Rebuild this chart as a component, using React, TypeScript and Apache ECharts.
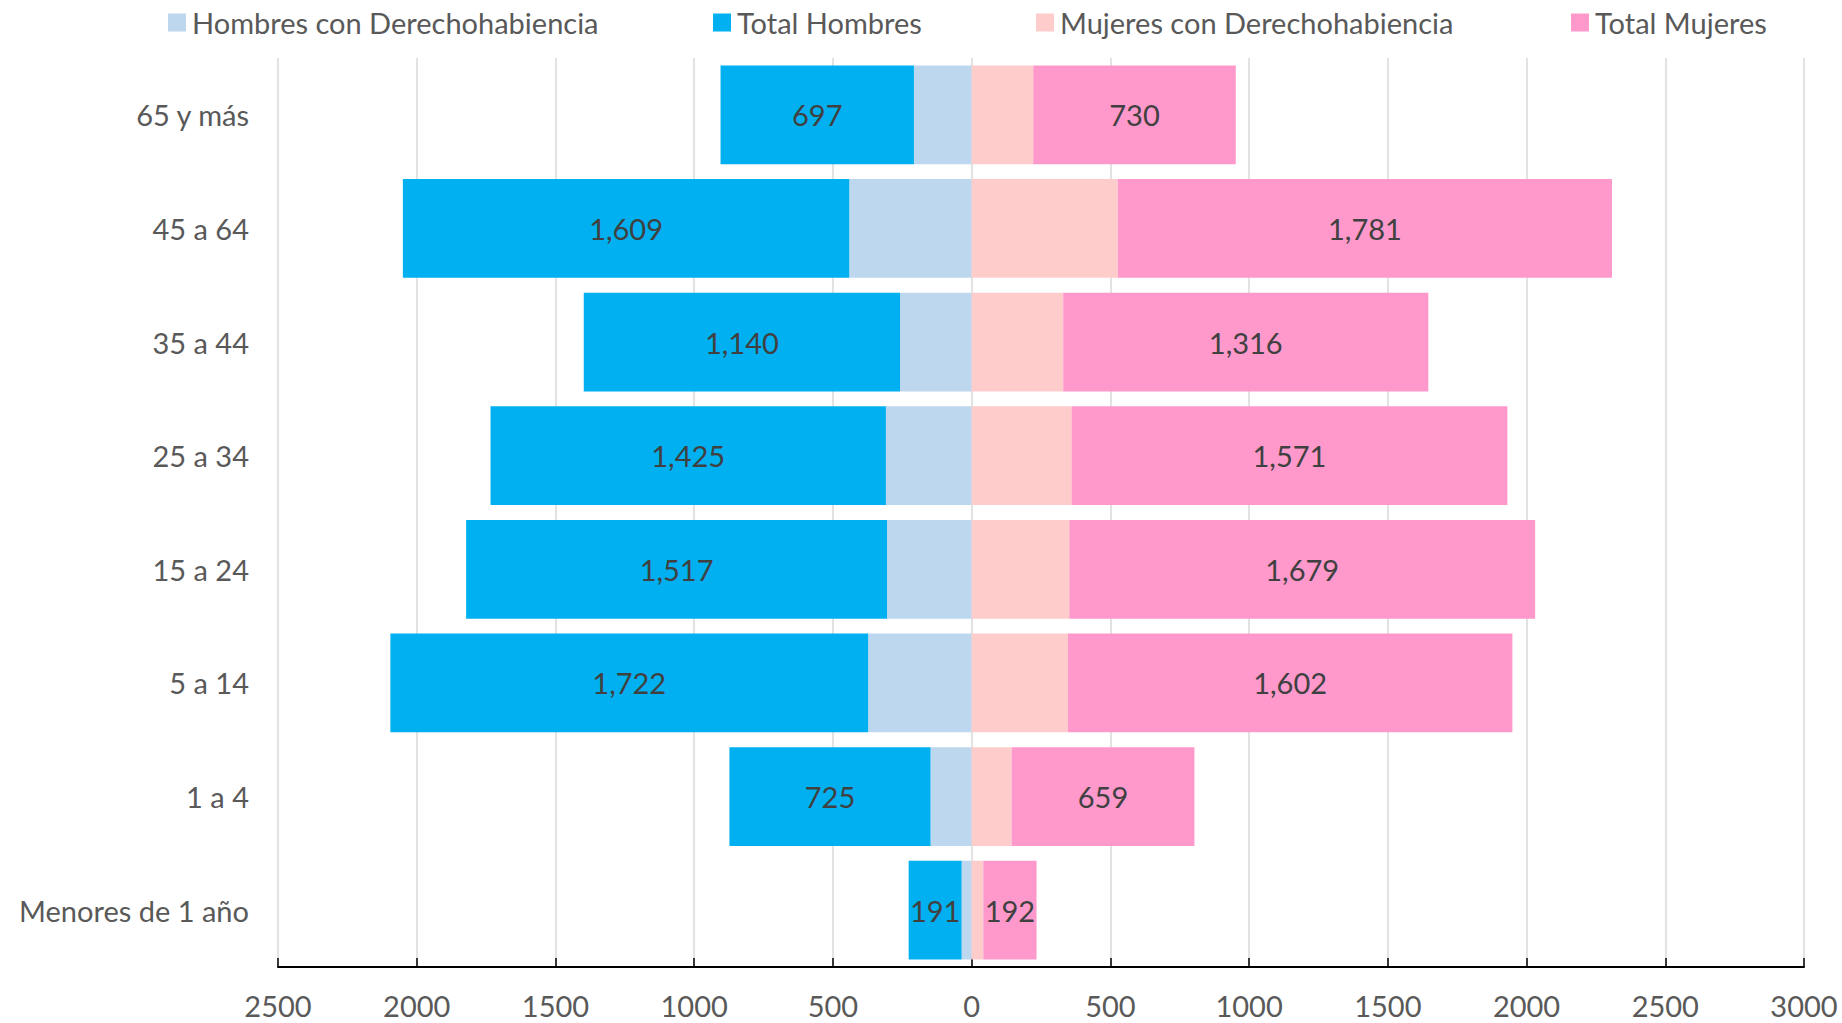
import React, { useEffect, useRef } from "react";
import * as echarts from "echarts";

const categories = ["Menores de 1 año", "1 a 4", "5 a 14", "15 a 24", "25 a 34", "35 a 44", "45 a 64", "65 y más"];
const hombresDer = [36, 148, 373, 305, 309, 258, 441, 208];
const totalHombres = [191, 725, 1722, 1517, 1425, 1140, 1609, 697];
const mujeresDer = [42, 144, 347, 352, 360, 330, 527, 222];
const totalMujeres = [192, 659, 1602, 1679, 1571, 1316, 1781, 730];
const seriesNames = ["Hombres con Derechohabiencia", "Total Hombres", "Mujeres con Derechohabiencia", "Total Mujeres"];
const colors = ["#BDD7EE", "#00B0F0", "#FFCCCC", "#FF99CC"];
const legendLeft = [163, 708, 1031, 1566];

const FONT = "Lato";

export default function App() {
  const ref = useRef<HTMLDivElement>(null);
  useEffect(() => {
    const chart = echarts.init(ref.current!, null, { renderer: "svg" });
    const fmt = (p: any) => Math.abs(p.value).toLocaleString("en-US");
    const datasets = [
      hombresDer.map((v) => -v),
      totalHombres.map((v) => -v),
      mujeresDer,
      totalMujeres,
    ];
    chart.setOption({
      animation: false,
      textStyle: { fontFamily: FONT },
      legend: seriesNames.map((n, i) => ({
        data: [n],
        left: legendLeft[i],
        top: 3,
        itemWidth: 18,
        itemHeight: 18,
        itemGap: 0,
        icon: "rect",
        textStyle: { fontFamily: FONT, fontSize: 29, color: "#595959", padding: [0, 0, 0, 1] },
      })),
      grid: { left: 278, right: 38, top: 58, bottom: 56, containLabel: false },
      xAxis: {
        type: "value",
        min: -2500,
        max: 3000,
        interval: 500,
        axisLine: { show: true, lineStyle: { color: "#000", width: 2 } },
        axisTick: { show: true, inside: true, length: 9, lineStyle: { color: "#000", width: 1.5 } },
        splitLine: { show: true, lineStyle: { color: "#D9D9D9", width: 1.5 } },
        axisLabel: {
          margin: 24,
          fontSize: 29,
          fontFamily: FONT,
          color: "#595959",
          formatter: (v: number) => String(Math.abs(v)),
        },
      },
      yAxis: {
        type: "category",
        data: categories,
        axisLine: { show: false },
        axisTick: { show: false },
        axisLabel: { margin: 29, fontSize: 29, fontFamily: FONT, color: "#595959" },
      },
      series: seriesNames.map((n, i) => ({
        name: n,
        type: "bar",
        stack: "all",
        barCategoryGap: "13%",
        data: datasets[i],
        itemStyle: { color: colors[i] },
        label: {
          show: i === 1 || i === 3,
          position: "inside",
          formatter: fmt,
          fontSize: 29,
          fontFamily: FONT,
          color: "#404040",
        },
      })),
    });
    return () => chart.dispose();
  }, []);
  return <div ref={ref} style={{ width: 1842, height: 1023, position: "absolute", left: 0, top: 0 }} />;
}
